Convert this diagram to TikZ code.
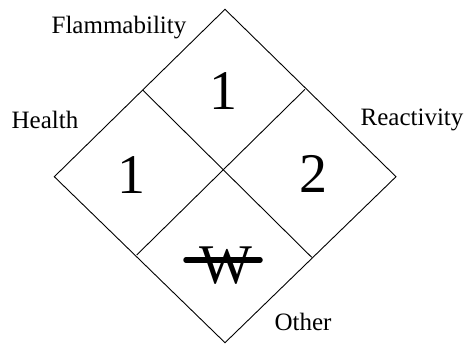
\documentclass[tikz,border=0pt]{standalone}
\usepackage{fontspec}
\setmainfont{Liberation Serif}
\begin{document}
\begin{tikzpicture}[x=1pt,y=-1pt,
  edge/.style={draw=black,line width=0.9pt},
  lab/.style={font=\fontsize{25}{25}\selectfont,anchor=base,inner sep=0pt},
  num/.style={font=\fontsize{56}{56}\selectfont,anchor=base,inner sep=0pt}]
\useasboundingbox (0,0) rectangle (469,345);
\coordinate (T) at (225,9.3);
\coordinate (L) at (54.3,176.7);
\coordinate (R) at (396,176.7);
\coordinate (B) at (225,342.7);
\coordinate (TL) at (142.7,90);
\coordinate (TR) at (305,89.3);
\coordinate (BL) at (136.7,255);
\coordinate (BR) at (311.7,257.3);
\draw[edge] (T) -- (R) -- (B) -- (L) -- cycle;
\draw[edge] (TL) -- (BR);
\draw[edge] (TR) -- (BL);
\node[lab] (flam) at (119,33.3) {Flammability};
\node[lab] (health) at (45,128.3) {Health};
\node[lab] (react) at (412,125) {Reactivity};
\node[lab] (other) at (303,330) {Other};
\node[num] (ftop) at (223,110) {1};
\node[num] (hleft) at (131.7,193.3) {1};
\node[num] (rright) at (313,192.7) {2};
\node[num] (w) at (226,283.3) {W};
\coordinate (s1) at (186,260);
\coordinate (s2) at (260,260);
\draw[line width=5.5pt,line cap=round] (s1) -- (s2);
\end{tikzpicture}
\end{document}
